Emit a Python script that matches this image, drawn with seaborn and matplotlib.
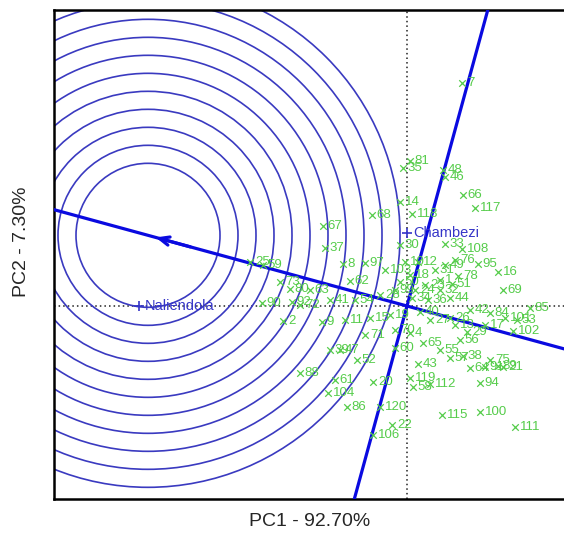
import numpy as np
import pandas as pd
import matplotlib
matplotlib.use("Agg")
import matplotlib.pyplot as plt
from matplotlib.patches import Circle
import seaborn as sns

# environment scores (PC1, PC2)
env_names = ["Naliendola", "Chambezi"]
env_pc1 = [-5.36, 0.01]
env_pc2 = [0.0, 1.46]

# genotype scores
geno_labels = [
    "7", "35", "81", "48", "46", "66", "117", "14", "68", "118",
    "67", "37", "30", "33", "108", "25", "59", "8", "97", "76",
    "95", "16", "78", "69", "51", "62", "80", "90", "92", "2",
    "102", "53", "85", "29", "47", "52", "88", "61", "20", "119",
    "58", "112", "104", "86", "120", "22", "106", "115", "100", "111",
    "94", "21", "75", "43", "38", "57", "65", "55", "4", "64",
    "91", "89", "42", "84", "101", "26", "27", "40", "13", "17",
    "10", "12", "18", "23", "24", "31", "32", "34", "36", "44",
    "49", "50", "9", "11", "15", "19", "28", "41", "54", "63",
    "70", "71", "72", "73", "39", "60", "56", "99", "103", "1",
]
geno_pc1 = [
    1.10, -0.08, 0.06, 0.72, 0.76, 1.12, 1.36, -0.14, -0.70, 0.10,
    -1.68, -1.64, -0.14, 0.76, 1.10, -3.14, -2.88, -1.28, -0.84, 0.96,
    1.42, 1.82, 1.02, 1.92, 0.90, -1.14, -2.34, -2.90, -2.30, -2.48,
    2.12, 2.20, 2.46, 1.20, -1.34, -1.00, -2.14, -1.44, -0.68, 0.06,
    0.12, 0.46, -1.58, -1.20, -0.54, -0.30, -0.68, 0.70, 1.46, 2.16,
    1.46, 1.92, 1.66, 0.22, 1.12, 0.86, 0.32, 0.66, 0.06, 1.26,
    1.56, 1.82, 1.26, 1.66, 1.96, 0.86, 0.46, 0.26, 0.96, 1.56,
    -0.04, 0.22, 0.06, 0.36, 0.16, 0.56, 0.66, 0.10, 0.42, 0.86,
    0.76, -0.14, -1.70, -1.24, -0.74, -0.34, -0.54, -1.54, -1.04, -1.94,
    -0.24, -0.84, -2.14, -2.54, -1.54, -0.24, 1.06, -0.24, -0.44, 0.66,
]
geno_pc2 = [
    4.46, 2.76, 2.90, 2.72, 2.58, 2.22, 1.96, 2.08, 1.82, 1.84,
    1.60, 1.16, 1.22, 1.24, 1.14, 0.88, 0.82, 0.84, 0.86, 0.92,
    0.84, 0.68, 0.60, 0.32, 0.44, 0.50, 0.34, 0.06, 0.08, -0.30,
    -0.50, -0.28, -0.04, -0.52, -0.88, -1.08, -1.34, -1.48, -1.52, -1.44,
    -1.62, -1.56, -1.74, -2.02, -2.02, -2.38, -2.58, -2.18, -2.12, -2.42,
    -1.54, -1.22, -1.08, -1.16, -1.00, -1.04, -0.74, -0.88, -0.54, -1.24,
    -1.22, -1.20, -0.08, -0.14, -0.24, -0.24, -0.28, -0.12, -0.38, -0.38,
    0.88, 0.88, 0.62, 0.42, 0.32, 0.72, 0.32, 0.16, 0.12, 0.16,
    0.82, 0.48, -0.32, -0.28, -0.24, -0.18, 0.22, 0.12, 0.12, 0.32,
    -0.48, -0.58, 0.02, 0.48, -0.88, -0.84, -0.68, 0.32, 0.72, 0.52,
]

# ideal point on the average-environment axis and the ring radii
ideal_pc1 = -5.18
ring_radii = [1.44, 1.80, 2.16, 2.52, 2.88, 3.24, 3.60, 3.96, 4.32, 4.68, 5.04]

pc1_pct = 92.70
pc2_pct = 7.30

GREEN = "#55cc4a"
ENV_BLUE = "#3535c8"
LINE_BLUE = "#0a0ae0"
RING_BLUE = "#3a3ac0"

sns.set_style("white")
plt.rcParams["font.family"] = ["Liberation Sans", "DejaVu Sans"]

geno = pd.DataFrame({"label": geno_labels, "PC1": geno_pc1, "PC2": geno_pc2})
env = pd.DataFrame({"name": env_names, "PC1": env_pc1, "PC2": env_pc2})

fig = plt.figure(figsize=(5.64, 5.36), dpi=100)
ax = fig.add_axes([54 / 564, 37 / 536, 546 / 564, 489 / 536])
ax.set_xlim(-7.06, 3.86)
ax.set_ylim(-3.86, 5.92)

# dotted axes through the origin
ax.axhline(0, color="#222222", lw=1.1, ls=(0, (1, 2)), zorder=1)
ax.axvline(0, color="#222222", lw=1.1, ls=(0, (1, 2)), zorder=1)

# average environment coordination: axis through origin and mean environment
mean_pc1 = np.mean(env["PC1"])
mean_pc2 = np.mean(env["PC2"])
slope = mean_pc2 / mean_pc1
ideal_pc2 = slope * ideal_pc1
ax.axline((0, 0), (mean_pc1, mean_pc2), color=LINE_BLUE, lw=2.3, zorder=3)
ax.axline((0, 0), slope=-1 / slope, color=LINE_BLUE, lw=2.3, zorder=3)
ax.annotate("", xy=(ideal_pc1 + 0.1, ideal_pc2 + 0.1 * slope),
            xytext=(ideal_pc1 + 0.9, ideal_pc2 + 0.9 * slope),
            arrowprops=dict(arrowstyle="->,head_length=0.7,head_width=0.3",
                            color=LINE_BLUE, lw=2.3), zorder=4)

# concentric rings round the ideal point
for r in ring_radii:
    ax.add_patch(Circle((ideal_pc1, ideal_pc2), r, fill=False,
                        ec=RING_BLUE, lw=1.2, zorder=2))

# genotypes
sns.scatterplot(data=geno, x="PC1", y="PC2", marker="x", s=22, color=GREEN,
                linewidth=0.9, ax=ax, zorder=5, legend=False)
for _, row in geno.iterrows():
    ax.annotate(row["label"], (row["PC1"], row["PC2"]), xytext=(3.5, 0),
                textcoords="offset points", va="center", ha="left",
                fontsize=9.5, color=GREEN, zorder=5)

# environments
sns.scatterplot(data=env, x="PC1", y="PC2", marker="+", s=60, color=ENV_BLUE,
                linewidth=1.2, ax=ax, zorder=6, legend=False)
for _, row in env.iterrows():
    ax.annotate(row["name"], (row["PC1"], row["PC2"]), xytext=(4, 0),
                textcoords="offset points", va="center", ha="left",
                fontsize=10.5, color=ENV_BLUE, zorder=6)

ax.set_xticks([])
ax.set_yticks([])
ax.set_xlabel("")
ax.set_ylabel("")
for side in ["left", "top", "bottom", "right"]:
    ax.spines[side].set_color("black")
    ax.spines[side].set_linewidth(1.8)

fig.text(310 / 564, 1 - 522 / 536, f"PC1 - {pc1_pct:.2f}%", ha="center",
         va="center", fontsize=14)
fig.text(22 / 564, 1 - 242 / 536, f"PC2 - {pc2_pct:.2f}%", ha="center",
         va="center", rotation=90, fontsize=14)

fig.savefig("out.png", dpi=100)
plt.close(fig)
